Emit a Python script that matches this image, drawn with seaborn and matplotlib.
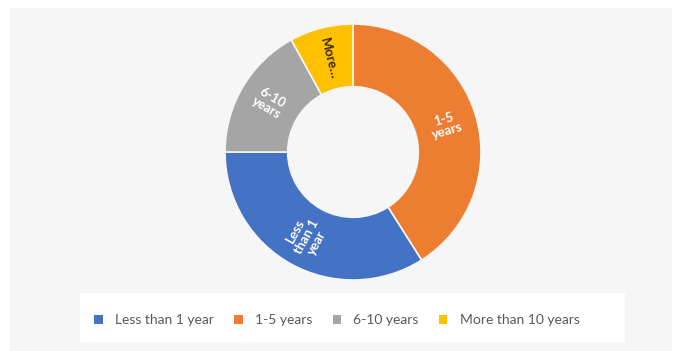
import numpy as np
import seaborn as sns
import matplotlib.pyplot as plt
from matplotlib.patches import Rectangle, Patch

categories = ["Less than 1 year", "1-5 years", "6-10 years", "More than 10 years"]
shares = [34, 41, 17, 8]
slice_labels = ["Less\nthan 1\nyear", "1-5\nyears", "6-10\nyears", "More…"]
colors = ["#4472C4", "#ED7D31", "#A5A5A5", "#FFC000"]
label_colors = ["white", "white", "white", "#3a2a00"]

# clockwise from 12 o'clock the slices run orange, blue, gray, yellow
draw_order = [1, 0, 2, 3]

sns.set_theme(style="white")
plt.rcParams['font.family'] = ['Lato', 'DejaVu Sans']

W, H = 681, 351
fig = plt.figure(figsize=(W / 100, H / 100), dpi=100)
fig.patch.set_facecolor("white")

# chart area background and legend box
fig.add_artist(Rectangle((10 / W, 0), 662 / W, (H - 8) / H, transform=fig.transFigure,
                         facecolor="#f6f6f6", edgecolor="none", zorder=0))
fig.add_artist(Rectangle((80 / W, (H - 342) / H), 545 / W, 49 / H, transform=fig.transFigure,
                         facecolor="white", edgecolor="none", zorder=0))

cx, cy, r = 353, 152, 128
ax = fig.add_axes([(cx - r) / W, (H - cy - r) / H, 2 * r / W, 2 * r / H])
ax.set_facecolor("none")

vals = [shares[i] for i in draw_order]
cols = [colors[i] for i in draw_order]
wedges, _ = ax.pie(vals, colors=cols, startangle=90, counterclock=False, radius=1,
                   wedgeprops=dict(width=0.49, edgecolor="#f6f6f6", linewidth=1.2))
ax.set_xlim(-1, 1)
ax.set_ylim(-1, 1)
ax.set_aspect("equal")
ax.axis("off")

for w, i in zip(wedges, draw_order):
    mid = (w.theta1 + w.theta2) / 2
    rad = np.deg2rad(mid)
    rot = (mid + 90) % 180 - 90
    ax.text(0.755 * np.cos(rad), 0.755 * np.sin(rad), slice_labels[i],
            ha="center", va="center", rotation=rot, rotation_mode="anchor",
            color=label_colors[i], fontsize=9.5, fontweight="bold", linespacing=1.0)

handles = [Patch(facecolor=c, edgecolor="none") for c in colors]
fig.legend(handles, categories, loc="center", bbox_to_anchor=(337 / W, (H - 320) / H),
           ncol=4, frameon=False, fontsize=10, labelcolor="#595959",
           handlelength=0.6, handleheight=0.6, handletextpad=0.9, columnspacing=1.45)

fig.savefig("out.png", dpi=100)
